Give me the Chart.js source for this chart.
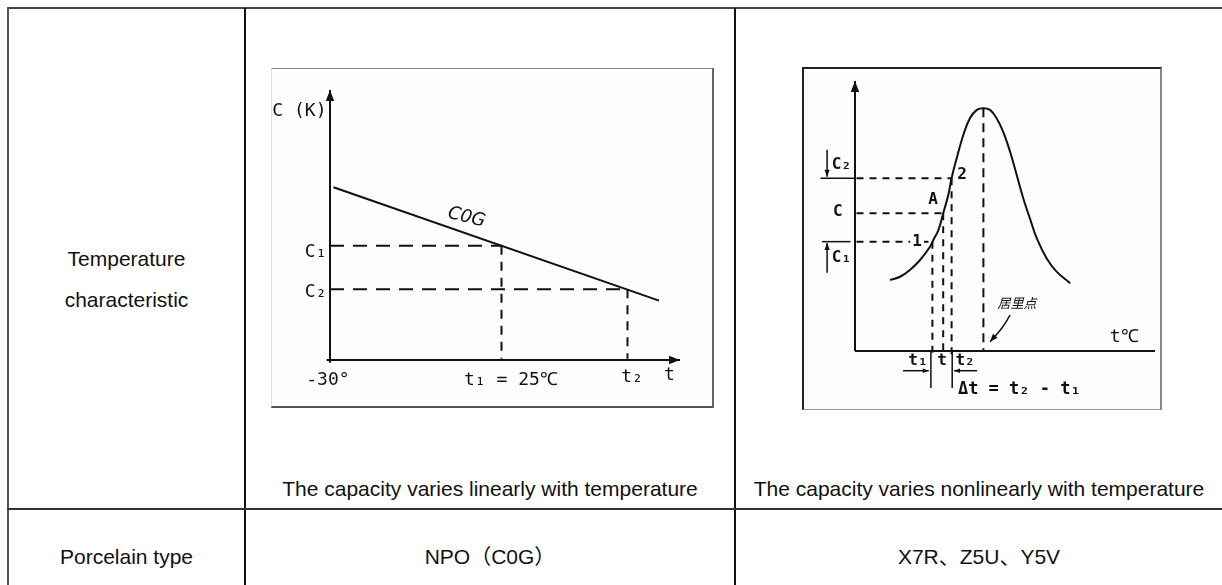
<!DOCTYPE html>
<html>
<head>
<meta charset="utf-8">
<title>Temperature characteristic</title>
<script src="https://cdn.jsdelivr.net/npm/chart.js@4.4.1/dist/chart.umd.min.js"></script>
<style>
  html, body { margin: 0; padding: 0; background: #fff; }
  body {
    width: 1222px; height: 585px; position: relative; overflow: hidden;
    font-family: "Liberation Sans", Arial, "Noto Sans CJK SC", sans-serif; color: #111;
  }
  .rule { position: absolute; background: #111; }
  .cell { position: absolute; text-align: center; font-size: 21px; line-height: 30px; white-space: nowrap; }
  .frame { position: absolute; box-sizing: border-box; pointer-events: none; }
  canvas { position: absolute; background: #fdfdfd; }
</style>
</head>
<body>
<!-- table rules -->
<div class="rule" style="left:7px;top:7px;width:1215px;height:2px;background:#444"></div>
<div class="rule" style="left:7px;top:7px;width:2px;height:578px;background:#555"></div>
<div class="rule" style="left:244px;top:8px;width:2px;height:577px"></div>
<div class="rule" style="left:734px;top:8px;width:2px;height:577px"></div>
<div class="rule" style="left:7px;top:508px;width:1215px;height:2px;background:#333"></div>

<!-- table text -->
<div class="cell" style="left:9px;width:235px;top:238px;line-height:41px">Temperature<br>characteristic</div>
<div class="cell" style="left:246px;width:488px;top:474px">The capacity varies linearly with temperature</div>
<div class="cell" style="left:736px;width:486px;top:474px">The capacity varies nonlinearly with temperature</div>
<div class="cell" style="left:9px;width:235px;top:542px">Porcelain type</div>
<div class="cell" style="left:246px;width:488px;top:542px">NPO（C0G）</div>
<div class="cell" style="left:736px;width:486px;top:542px">X7R、Z5U、Y5V</div>

<!-- the two sketches -->
<canvas id="npoChart" width="442" height="339" style="left:271px;top:68px"></canvas>
<div class="frame" style="left:271px;top:68px;width:443px;height:340px;border-top:1px solid #888;border-right:2px solid #666;border-bottom:2px solid #555;border-left:1px solid #ddd"></div>
<canvas id="x7rChart" width="358" height="341" style="left:803px;top:68px"></canvas>
<div class="frame" style="left:802px;top:67px;width:360px;height:343px;border-top:2px solid #222;border-left:2px solid #222;border-right:2px solid #888;border-bottom:1px solid #999"></div>

<script>
// ---- left sketch: NPO (C0G), capacity falls linearly with temperature ----
const npoLineT = [1, 94];
const npoLineC = [64, 22];
const npoMarkT = [49, 85];       // t1 = 25℃, t2
const npoMarkC = [42.3, 26.2];   // C1, C2
const npoText = ['C (K)', 'C₁', 'C₂', '-30°', 't₁ = 25℃', 't₂', 't', 'C0G'];
const npoTextT = [-1, -1, -1, -0.6, 51.7, 86.3, 97, 39];
const npoTextC = [92, 40, 25, -7.4, -7.4, -6.3, -5.5, 52.8];

// ---- right sketch: X7R / Z5U / Y5V, capacity peaks at the Curie point ----
const x7rT = [11.7, 15, 18.3, 21.7, 25, 26.1, 27.8, 29.4, 31.1, 32.2, 33.9, 36.1, 38.3,
              40.6, 42.8, 45, 47.2, 49.4, 51.7, 53.9, 56.1, 58.3, 60.6, 63.9, 67.2, 71.7];
const x7rC = [26.3, 27.5, 30, 33.7, 38.6, 41.1, 44.8, 51, 57.8, 64, 71.4, 80, 86.2,
              89.3, 89.9, 89.3, 86.2, 81.2, 73.8, 65.2, 56.5, 49.1, 41.7, 34.3, 29.4, 25.1];
const x7rMarkT = [25.8, 29.4, 32.2];   // t1, t, t2
const x7rMarkC = [40.5, 51, 64];       // C1, C, C2
const curieT = 42.8;
const curieC = 89.9;
const curieArrowT = [51.7, 48.9, 45];
const curieArrowC = [13.3, 8.4, 3.4];
const x7rText = ['C₂', 'C', 'C₁', 'A', '2', '1', 't₁', 't', 't₂', 'Δt = t₂ - t₁', '居里点', 't℃'];
const x7rTextT = [-4.5, -5.7, -4.5, 26, 35.7, 20.7, 21, 29, 36.7, 34.3, 54, 89.7];
const x7rTextC = [68.9, 51.5, 34.4, 56, 65.2, 40.5, -3.5, -3.5, -3.5, -14.4, 17.8, 5.2];

const INK = '#111';

function pts(ts, cs) {
    return ts.map((t, i) => ({ x: t, y: cs[i] }));
}

function seg(x0, y0, x1, y1) {
    return [{ x: x0, y: y0 }, { x: x1, y: y1 }];
}

function line(data, extra) {
    return Object.assign({
        data: data,
        showLine: true,
        borderColor: INK,
        borderWidth: 2,
        pointRadius: 0,
        clip: false,
        tension: 0
    }, extra || {});
}

// labels and arrow heads, placed through the chart's own scales
function makeLabels(texts, ts, cs, styleOf) {
    return {
        id: 'sketchLabels',
        afterDatasetsDraw(chart) {
            const ctx = chart.ctx;
            const xs = chart.scales.x;
            const ys = chart.scales.y;
            ctx.save();
            ctx.fillStyle = INK;

            chart.data.datasets.forEach(ds => {
                if (!ds.arrow) return;
                const n = ds.data.length;
                const a = ds.data[n - 2], b = ds.data[n - 1];
                const ax = xs.getPixelForValue(a.x), ay = ys.getPixelForValue(a.y);
                const bx = xs.getPixelForValue(b.x), by = ys.getPixelForValue(b.y);
                const ang = Math.atan2(by - ay, bx - ax);
                const len = ds.arrow, half = len * 0.38;
                const cx = bx - len * Math.cos(ang), cy = by - len * Math.sin(ang);
                ctx.beginPath();
                ctx.moveTo(bx, by);
                ctx.lineTo(cx - half * Math.sin(ang), cy + half * Math.cos(ang));
                ctx.lineTo(cx + half * Math.sin(ang), cy - half * Math.cos(ang));
                ctx.closePath();
                ctx.fill();
            });

            texts.forEach((text, i) => {
                const st = styleOf(text);
                const px = xs.getPixelForValue(ts[i]);
                const py = ys.getPixelForValue(cs[i]);
                ctx.font = st.font;
                ctx.textAlign = st.align || 'center';
                ctx.textBaseline = 'middle';
                ctx.save();
                ctx.translate(px, py);
                if (st.rotate) ctx.rotate(st.rotate * Math.PI / 180);
                if (st.knockout) {
                    const w = ctx.measureText(text).width;
                    ctx.fillStyle = '#fdfdfd';
                    ctx.fillRect(-w / 2 - 2, -8, w + 4, 16);
                    ctx.fillStyle = INK;
                }
                ctx.fillText(text, 0, 0);
                ctx.restore();
            });
            ctx.restore();
        }
    };
}

function baseOptions(pad) {
    return {
        responsive: false,
        animation: false,
        layout: { padding: pad },
        scales: {
            x: { type: 'linear', min: 0, max: 100, display: false },
            y: { type: 'linear', min: 0, max: 100, display: false }
        },
        plugins: { legend: { display: false }, tooltip: { enabled: false } }
    };
}

// left sketch
const npoDash = { borderDash: [14, 9] };
const npoDashV = { borderDash: [9, 7] };
new Chart(document.getElementById('npoChart').getContext('2d'), {
    type: 'scatter',
    data: {
        datasets: [
            line(seg(-1, 0, 100, 0), { arrow: 11 }),
            line(seg(0, -1, 0, 100), { arrow: 11 }),
            line(pts(npoLineT, npoLineC)),
            line(seg(0, npoMarkC[0], npoMarkT[0], npoMarkC[0]), npoDash),
            line(seg(npoMarkT[0], npoMarkC[0], npoMarkT[0], 0.5), npoDashV),
            line(seg(0, npoMarkC[1], npoMarkT[1], npoMarkC[1]), npoDash),
            line(seg(npoMarkT[1], npoMarkC[1], npoMarkT[1], 0.5), npoDashV)
        ]
    },
    options: baseOptions({ left: 59, right: 33, top: 22, bottom: 47 }),
    plugins: [makeLabels(npoText, npoTextT, npoTextC, text => {
        if (text === 'C0G') return { font: 'italic 18px "DejaVu Sans", sans-serif', rotate: 14 };
        if (text === 'C (K)' || text === 'C₁' || text === 'C₂') return { font: '18px "DejaVu Sans Mono", monospace', align: 'right' };
        return { font: '18px "DejaVu Sans Mono", monospace' };
    })]
});

// right sketch
const x7rDash = { borderDash: [7, 6] };
new Chart(document.getElementById('x7rChart').getContext('2d'), {
    type: 'scatter',
    data: {
        datasets: [
            line(seg(0, 0, 100, 0)),
            line(seg(0, 0, 0, 100), { arrow: 11 }),
            line(pts(x7rT, x7rC), { tension: 0.4 }),
            // level lines at C2, C, C1
            line(seg(0.5, x7rMarkC[2], x7rMarkT[2], x7rMarkC[2]), x7rDash),
            line(seg(0.5, x7rMarkC[1], x7rMarkT[1], x7rMarkC[1]), x7rDash),
            line(seg(0.5, x7rMarkC[0], x7rMarkT[0], x7rMarkC[0]), x7rDash),
            // drop lines to the temperature axis
            line(seg(x7rMarkT[2], x7rMarkC[2], x7rMarkT[2], -2.5), x7rDash),
            line(seg(x7rMarkT[1], x7rMarkC[1], x7rMarkT[1], 0), x7rDash),
            line(seg(x7rMarkT[0], x7rMarkC[0], x7rMarkT[0], -2.5), x7rDash),
            line(seg(curieT, curieC, curieT, 0), { borderDash: [9, 6] }),
            // tolerance marks left of the axis
            line(seg(-11.5, x7rMarkC[2], 0, x7rMarkC[2]), { borderWidth: 1.5 }),
            line(seg(-11, x7rMarkC[0], -1.5, x7rMarkC[0]), { borderWidth: 1.5 }),
            line(seg(-9.3, x7rMarkC[2] + 10.5, -9.3, x7rMarkC[2] + 0.5), { borderWidth: 1.5, arrow: 7 }),
            line(seg(-9.3, x7rMarkC[0] - 11.5, -9.3, x7rMarkC[0] - 0.5), { borderWidth: 1.5, arrow: 7 }),
            // bracket under the axis
            line(seg(x7rMarkT[0] - 0.5, 0, x7rMarkT[0] - 0.5, -13.7), { borderWidth: 1.5 }),
            line(seg(x7rMarkT[2] + 0.2, 0, x7rMarkT[2] + 0.2, -13.7), { borderWidth: 1.5 }),
            line(seg(x7rMarkT[0] - 9.8, -7.3, x7rMarkT[0] - 1.2, -7.3), { borderWidth: 1.5, arrow: 6 }),
            line(seg(x7rMarkT[2] + 8.5, -7.3, x7rMarkT[2] + 0.8, -7.3), { borderWidth: 1.5, arrow: 6 }),
            // Curie point pointer
            line(pts(curieArrowT, curieArrowC), { borderWidth: 1.5, tension: 0.4, arrow: 8 })
        ]
    },
    options: baseOptions({ left: 52, right: 6, top: 13, bottom: 58 }),
    plugins: [makeLabels(x7rText, x7rTextT, x7rTextC, text => {
        if (text === '居里点') return { font: 'italic 13px "Noto Sans CJK SC", sans-serif' };
        if (text === 't℃') return { font: '18px "DejaVu Sans Mono", monospace' };
        if (text === '1') return { font: 'bold 16px "DejaVu Sans Mono", monospace', knockout: true };
        if (text.startsWith('Δt')) return { font: 'bold 17px "DejaVu Sans Mono", monospace', align: 'left' };
        return { font: 'bold 16px "DejaVu Sans Mono", monospace' };
    })]
});
</script>
</body>
</html>
